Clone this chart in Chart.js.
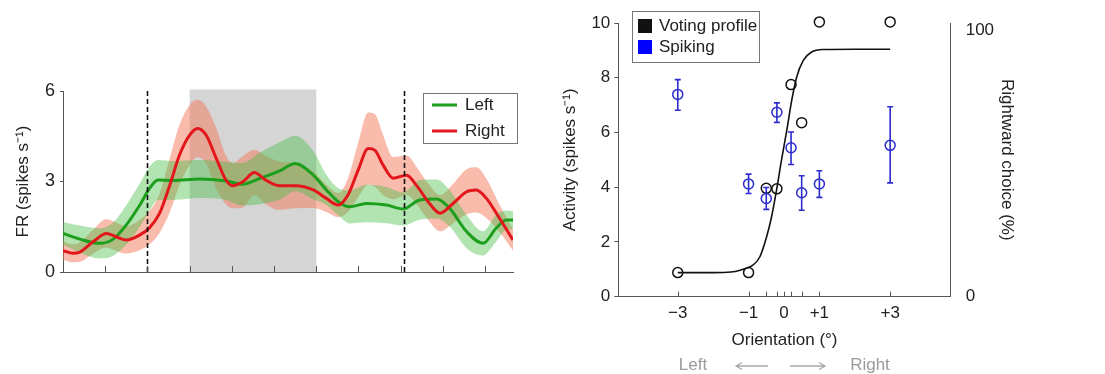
<!DOCTYPE html>
<html><head><meta charset="utf-8">
<script src="https://cdn.jsdelivr.net/npm/chart.js@4.4.1/dist/chart.umd.min.js"></script>
<style>
html,body{margin:0;padding:0;background:#fff;}
#wrap{position:relative;width:1105px;height:374px;overflow:hidden;}
#left{position:absolute;left:0;top:0;}
#right{position:absolute;left:540px;top:0;}
</style></head><body>
<div id="wrap"><canvas id="left" width="540" height="374"></canvas><canvas id="right" width="565" height="374"></canvas></div>
<script>
// ---- left panel: firing rate over time (x in tick units) ----
const greenX=[0,0.4,0.87,1.19,1.5,1.82,2.05,2.25,2.61,3.24,3.86,4.26,4.66,5.13,5.5,5.93,6.24,6.52,6.79,7.19,7.66,8.06,8.45,8.85,9.16,9.56,9.95,10.26,10.5,10.66];
const greenMean=[1.28,1.09,0.95,1.09,1.56,2.22,2.77,3.05,3.03,3.08,3.02,2.91,3.10,3.35,3.60,3.21,2.72,2.33,2.16,2.27,2.22,2.09,2.39,2.42,2.11,1.34,0.95,1.45,1.72,1.72];
const greenErr=[0.38,0.45,0.5,0.55,0.65,0.72,0.72,0.66,0.64,0.63,0.63,0.7,0.85,0.95,0.92,0.8,0.5,0.45,0.55,0.62,0.6,0.55,0.66,0.65,0.6,0.55,0.4,0.45,0.32,0.3];
const redX=[0,0.24,0.4,0.71,1.03,1.26,1.5,1.82,2.05,2.29,2.53,2.76,3.0,3.19,3.39,3.63,3.86,4.02,4.26,4.53,4.8,5.12,5.5,5.93,6.24,6.52,6.75,6.99,7.23,7.39,7.58,7.82,8.14,8.37,8.65,8.93,9.24,9.56,9.79,10.03,10.34,10.66];
const redMean=[0.71,0.62,0.66,1.0,1.28,1.17,1.06,1.23,1.47,1.95,2.88,3.88,4.54,4.76,4.54,3.77,3.05,2.86,2.99,3.30,3.05,2.86,2.86,2.72,2.44,2.22,2.55,3.37,4.09,4.03,3.55,3.11,3.21,2.88,2.33,1.95,2.27,2.66,2.72,2.44,1.78,1.06];
const redErr=[0.3,0.3,0.32,0.4,0.47,0.47,0.45,0.5,0.55,0.65,0.9,1.0,1.0,0.95,0.95,1.0,0.8,0.75,0.85,0.75,0.8,0.8,0.75,0.6,0.45,0.4,0.55,0.9,1.2,1.2,1.0,0.7,0.65,0.62,0.6,0.6,0.65,0.75,0.75,0.65,0.45,0.35];
const timeTicks=[1,2,3,4,5,6,7,8,9,10];
const shadeSpan=[3,6];
const shadeTop=6.05;
const cueLines=[2,8.07];
const frTicks=[0,3,6];

// ---- right panel: orientation tuning ----
const oriTicks=[-3,-1,0,1,3];
const oriLabels=['\u22123','\u22121','0','+1','+3'];
const oriMinor=[-0.5,-0.2,0.2,0.5];
const spikeX=[-3,-1,-0.5,-0.2,0.2,0.5,1,3];
const spikeY=[7.39,4.12,3.59,6.74,5.44,3.80,4.12,5.53];
const spikeLo=[6.81,3.77,3.19,6.37,4.83,3.16,3.63,4.16];
const spikeHi=[7.93,4.48,3.99,7.08,6.02,4.42,4.60,6.94];
const voteX=[-3,-1,-0.5,-0.2,0.2,0.5,1,3];
const voteY=[0.88,0.88,3.96,3.94,7.75,6.36,10.04,10.04];
const fitX=[-3,-2,-1.5,-1.24,-0.87,-0.68,-0.49,-0.35,-0.21,-0.07,0.08,0.22,0.36,0.55,0.78,1.11,2,3];
const fitY=[0.88,0.88,0.9,0.97,1.16,1.46,2.19,2.92,3.89,4.99,6.08,7.18,8.03,8.64,8.94,9.03,9.04,9.04];

const FONT='"Liberation Sans", Arial, sans-serif';
Chart.defaults.font.family=FONT;
Chart.defaults.color='#222';
const pts=(xs,ys)=>xs.map((x,i)=>({x,y:ys[i]}));
const GREEN='#1d9e1d', RED='#e3161b', BLUE='#2b2bd0';

const leftDeco={id:'leftDeco',
  beforeDatasetsDraw(c){
    const {ctx,chartArea:a,scales:{x,y}}=c;
    const x0=x.getPixelForValue(shadeSpan[0]), x1=x.getPixelForValue(shadeSpan[1]);
    const yt=y.getPixelForValue(shadeTop);
    ctx.save();ctx.fillStyle='#d5d5d5';ctx.fillRect(x0,yt,x1-x0,a.bottom-yt);ctx.restore();
  },
  afterDatasetsDraw(c){
    const {ctx,chartArea:a,scales:{x,y}}=c;
    ctx.save();
    ctx.strokeStyle='#111';ctx.lineWidth=1.6;ctx.setLineDash([5,3]);
    cueLines.forEach(v=>{const px=Math.round(x.getPixelForValue(v))+0.5;
      ctx.beginPath();ctx.moveTo(px,y.getPixelForValue(6));ctx.lineTo(px,a.bottom);ctx.stroke();});
    ctx.setLineDash([]);ctx.strokeStyle='#555';ctx.lineWidth=1;
    timeTicks.forEach(v=>{const px=Math.round(x.getPixelForValue(v))+0.5;
      ctx.beginPath();ctx.moveTo(px,a.bottom);ctx.lineTo(px,a.bottom-6);ctx.stroke();});
    ctx.restore();
  },
  afterDraw(c){
    const ctx=c.ctx;
    ctx.save();
    ctx.fillStyle='#fff';ctx.strokeStyle='#777';ctx.lineWidth=1;
    ctx.fillRect(423,93,94,50);ctx.strokeRect(423.5,93.5,94,50);
    ctx.lineWidth=3;
    [['Left',GREEN,105],['Right',RED,131]].forEach(([t,col,yy])=>{
      ctx.strokeStyle=col;ctx.beginPath();ctx.moveTo(432,yy);ctx.lineTo(457,yy);ctx.stroke();
      ctx.fillStyle='#222';ctx.font='17px '+FONT;ctx.textBaseline='middle';ctx.fillText(t,465,yy);
    });
    ctx.restore();
  }};

new Chart(document.getElementById('left'),{type:'line',
  data:{datasets:[
    {label:'Right',data:pts(redX,redMean),borderColor:RED,borderWidth:3,pointRadius:0,cubicInterpolationMode:'monotone',order:0,fill:false},
    {label:'Left',data:pts(greenX,greenMean),borderColor:GREEN,borderWidth:3,pointRadius:0,cubicInterpolationMode:'monotone',order:1,fill:false},
    {label:'gHi',data:pts(greenX,greenMean.map((m,i)=>m+greenErr[i])),borderWidth:0,pointRadius:0,cubicInterpolationMode:'monotone',order:2,fill:'+1',backgroundColor:'rgba(70,190,70,0.42)'},
    {label:'gLo',data:pts(greenX,greenMean.map((m,i)=>m-greenErr[i])),borderWidth:0,pointRadius:0,cubicInterpolationMode:'monotone',order:2,fill:false},
    {label:'rHi',data:pts(redX,redMean.map((m,i)=>m+redErr[i])),borderWidth:0,pointRadius:0,cubicInterpolationMode:'monotone',order:3,fill:'+1',backgroundColor:'rgba(242,120,90,0.5)'},
    {label:'rLo',data:pts(redX,redMean.map((m,i)=>m-redErr[i])),borderWidth:0,pointRadius:0,cubicInterpolationMode:'monotone',order:3,fill:false}
  ]},
  options:{responsive:false,animation:false,
    layout:{padding:{top:91,bottom:102,right:27,left:0}},
    plugins:{legend:{display:false},tooltip:{enabled:false}},
    scales:{
      x:{type:'linear',min:0,max:10.66,ticks:{display:false},grid:{display:false},border:{color:'#555'},
        afterFit:s=>{s.height=0;}},
      y:{min:0,max:6,afterBuildTicks:s=>{s.ticks=frTicks.map(v=>({value:v}));},
        ticks:{font:{size:18},color:'#222',padding:5},
        grid:{drawOnChartArea:false,tickLength:3,color:'#555'},border:{color:'#555'},
        title:{display:true,text:'FR (spikes s\u207B\u00B9)',font:{size:17},color:'#222',padding:{top:13,bottom:0}},
        afterFit:s=>{s.width=63;}}
    }},
  plugins:[leftDeco]});

const rightDeco={id:'rightDeco',
  beforeDatasetsDraw(c){
    const {ctx,scales:{x,y}}=c;
    ctx.save();ctx.strokeStyle=BLUE;ctx.lineWidth=1.6;
    spikeX.forEach((v,i)=>{const px=x.getPixelForValue(v),y0=y.getPixelForValue(spikeLo[i]),y1=y.getPixelForValue(spikeHi[i]);
      ctx.beginPath();ctx.moveTo(px,y0);ctx.lineTo(px,y1);
      ctx.moveTo(px-3,y0);ctx.lineTo(px+3,y0);ctx.moveTo(px-3,y1);ctx.lineTo(px+3,y1);ctx.stroke();});
    ctx.restore();
  },
  afterDatasetsDraw(c){
    const {ctx,chartArea:a,scales:{x}}=c;
    ctx.save();ctx.strokeStyle='#555';ctx.lineWidth=1;
    oriTicks.concat(oriMinor).forEach(v=>{const px=Math.round(x.getPixelForValue(v))+0.5;
      ctx.beginPath();ctx.moveTo(px,a.bottom);ctx.lineTo(px,a.bottom-5);ctx.stroke();});
    ctx.restore();
  },
  afterDraw(c){
    const ctx=c.ctx;
    ctx.save();
    ctx.fillStyle='#fff';ctx.strokeStyle='#777';ctx.lineWidth=1;
    ctx.fillRect(92,11,127,51);ctx.strokeRect(92.5,11.5,127,51);
    ctx.font='17px '+FONT;ctx.textBaseline='middle';
    [['Voting profile','#111',26],['Spiking','#0000ff',47]].forEach(([t,col,yy])=>{
      ctx.fillStyle=col;ctx.fillRect(98,yy-7,14,14);
      ctx.fillStyle='#222';ctx.fillText(t,119,yy);
    });
    // direction hint under the axis
    ctx.fillStyle='#9a9a9a';ctx.textAlign='center';
    ctx.fillText('Left',153,365);ctx.fillText('Right',330,365);
    ctx.strokeStyle='#a8a8a8';ctx.lineWidth=1.3;
    ctx.beginPath();ctx.moveTo(228,366);ctx.lineTo(196,366);ctx.moveTo(202,362.5);ctx.lineTo(196,366);ctx.lineTo(202,369.5);
    ctx.moveTo(250,366);ctx.lineTo(285,366);ctx.moveTo(279,362.5);ctx.lineTo(285,366);ctx.lineTo(279,369.5);ctx.stroke();
    ctx.restore();
  }};

new Chart(document.getElementById('right'),{type:'line',
  data:{datasets:[
    {label:'Spiking',data:pts(spikeX,spikeY),showLine:false,pointRadius:5,pointBorderWidth:1.5,pointBorderColor:BLUE,pointBackgroundColor:'rgba(0,0,0,0)',borderColor:BLUE,clip:false},
    {label:'Voting profile',data:pts(voteX,voteY),showLine:false,pointRadius:5,pointBorderWidth:1.5,pointBorderColor:'#111',pointBackgroundColor:'rgba(0,0,0,0)',borderColor:'#111',clip:false},
    {label:'fit',data:pts(fitX,fitY),borderColor:'#111',borderWidth:1.6,pointRadius:0,cubicInterpolationMode:'monotone',fill:false}
  ]},
  options:{responsive:false,animation:false,
    layout:{padding:{top:23,bottom:17.3,right:74.3,left:0}},
    plugins:{legend:{display:false},tooltip:{enabled:false}},
    scales:{
      x:{type:'linear',min:-4.68,max:4.71,
        afterBuildTicks:s=>{s.ticks=oriTicks.map(v=>({value:v}));},
        ticks:{callback:(v,i)=>oriLabels[i],font:{size:17},color:'#222',padding:6,maxRotation:0,autoSkip:false},
        grid:{display:false,drawTicks:false,tickLength:0},border:{color:'#555'},
        title:{display:true,text:'Orientation (\u00B0)',font:{size:17},color:'#222',padding:{top:0,bottom:6.5}},
        afterFit:s=>{s.height=60;}},
      y:{min:0,max:10,ticks:{stepSize:2,font:{size:17},color:'#222',padding:4},
        grid:{drawOnChartArea:false,tickLength:4,color:'#555'},border:{color:'#555'},
        title:{display:true,text:'Activity (spikes s\u207B\u00B9)',font:{size:17},color:'#222',padding:{top:20,bottom:0}},
        afterFit:s=>{s.width=78.3;}},
      y1:{position:'right',min:0,max:102.8,afterBuildTicks:s=>{s.ticks=[0,100].map(v=>({value:v}));},
        ticks:{font:{size:17},color:'#222',padding:7},
        grid:{display:false},border:{color:'#555'},
        title:{display:true,text:'Rightward choice (%)',font:{size:17},color:'#222',padding:{top:14,bottom:0}},
        afterFit:s=>{s.width=80;}}
    }},
  plugins:[rightDeco]});
</script></body></html>
